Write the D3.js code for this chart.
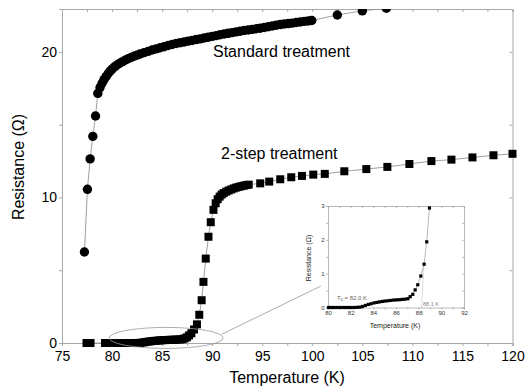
<!DOCTYPE html>
<html>
<head>
<meta charset="utf-8">
<script src="https://cdn.jsdelivr.net/npm/d3@7"></script>
<style>
  body { margin: 0; background: #fff; }
  svg { display: block; font-family: "Liberation Sans", Arial, sans-serif; }
</style>
</head>
<body>
<div id="chart"></div>
<script>
// standard treatment (circles)
const stdT = [77.24, 77.54, 77.81, 78.08, 78.35, 78.58, 78.8, 79.0, 79.2, 79.4, 79.6, 79.8, 80.0, 80.2, 80.4,
  80.7, 81.0, 81.3, 81.6, 81.9, 82.2, 82.5, 82.8, 83.2, 83.6, 84.0, 84.4, 84.8, 85.2, 85.6, 86.0, 86.4,
  86.8, 87.2, 87.6, 88.0, 88.4, 88.8, 89.2, 89.6, 90.0, 90.4, 90.8, 91.2, 91.6, 92.0, 92.4, 92.8, 93.2,
  93.6, 94.0, 94.4, 94.8, 95.2, 95.6, 96.0, 96.4, 96.8, 97.2, 97.6, 98.0, 98.4, 98.8, 99.2, 99.6, 99.95,
  102.5, 105.0, 107.4];
const stdR = [6.25, 10.56, 12.65, 14.2, 15.6, 17.15, 17.55, 17.85, 18.1, 18.3, 18.5, 18.68, 18.82, 18.95, 19.05,
  19.2, 19.32, 19.43, 19.53, 19.62, 19.7, 19.78, 19.86, 19.95, 20.04, 20.13, 20.21, 20.29, 20.36, 20.44, 20.51, 20.58,
  20.63, 20.68, 20.74, 20.79, 20.85, 20.9, 20.96, 21.01, 21.07, 21.12, 21.18, 21.23, 21.28, 21.33, 21.38, 21.42, 21.47,
  21.51, 21.55, 21.59, 21.63, 21.68, 21.73, 21.78, 21.83, 21.88, 21.92, 21.95, 21.98, 22.02, 22.06, 22.1, 22.13, 22.16,
  22.54, 22.82, 23.0];

// 2-step treatment (squares)
const stepT = [77.45, 77.85, 79.3, 79.55, 79.8, 80.05, 80.3, 80.55, 80.8, 81.05, 81.3, 81.55, 81.8, 82.05, 82.3,
  82.55, 82.8, 83.05, 83.3, 83.55, 83.8, 84.05, 84.3, 84.55, 84.8, 85.05, 85.3, 85.55, 85.8, 86.05, 86.3, 86.55,
  86.8, 87.05, 87.25, 87.48, 87.69, 87.92, 88.19, 88.48, 88.71, 88.95, 89.13, 89.36, 89.63, 89.86, 90.13, 90.35,
  90.55, 90.75, 90.95, 91.15, 91.4, 91.65, 91.9, 92.15, 92.4, 92.65, 92.9, 93.15, 93.4, 93.65, 94.8, 95.7, 96.8,
  97.9, 98.97, 100.1, 101.25, 103.2, 105.4, 107.5, 109.7, 111.9, 113.9, 116.0, 118.1, 120.0];
const stepR = [0, 0, 0, 0, 0, 0, 0, 0, 0, 0, 0, 0, 0, 0, 0,
  0.005, 0.01, 0.03, 0.06, 0.09, 0.11, 0.135, 0.15, 0.165, 0.18, 0.19, 0.2, 0.21, 0.22, 0.225, 0.23, 0.24,
  0.245, 0.26, 0.32, 0.39, 0.52, 0.67, 0.93, 1.28, 1.94, 2.94, 4.2, 5.8, 7.3, 8.3, 9.15, 9.6,
  9.88, 10.06, 10.2, 10.3, 10.4, 10.48, 10.55, 10.62, 10.68, 10.73, 10.77, 10.81, 10.85, 10.88, 10.97, 11.09, 11.25,
  11.39, 11.48, 11.57, 11.62, 11.8, 11.95, 12.1, 12.3, 12.5, 12.6, 12.75, 12.9, 13.0];

const xTicks = [75, 80, 85, 90, 95, 100, 105, 110, 115, 120];
const yTicks = [0, 10, 20];
const insetXTicks = [80, 82, 84, 86, 88, 90, 92];
const insetYTicks = [0, 1, 2, 3];
const tangent = [[88.25, 0], [88.47, 1.3]];

const W = 526, H = 387;
const frame = "#a8a8a8";

let svg = d3.select("#chart").append("svg")
  .attr("width", W)
  .attr("height", H);

let x = d3.scaleLinear().domain([75, 120]).range([62, 512.5]);
let y = d3.scaleLinear().domain([0, 22.95]).range([343, 9]);

let std = stdT.map((t, i) => [t, stdR[i]]);
let step = stepT.map((t, i) => [t, stepR[i]]);

// axes
function styleAxis(g) {
  g.selectAll("path,line").attr("stroke", frame);
  g.selectAll("text").attr("fill", "#000");
}

svg.append("g").attr("transform", "translate(0,343)")
  .call(d3.axisBottom(x).tickValues(d3.range(77.5, 120, 5)).tickSize(3).tickFormat(""))
  .call(styleAxis);
svg.append("g").attr("transform", "translate(0,343)")
  .call(d3.axisBottom(x).tickValues(xTicks).tickSize(3).tickPadding(5))
  .call(styleAxis)
  .selectAll("text").attr("font-size", 14).attr("font-family", "Liberation Sans, Arial");
svg.append("g").attr("transform", "translate(0,9)")
  .call(d3.axisTop(x).tickValues(d3.range(75, 120.1, 2.5)).tickSize(-3).tickFormat(""))
  .call(styleAxis);

svg.append("g").attr("transform", "translate(62,0)")
  .call(d3.axisLeft(y).tickValues([5, 15]).tickSize(3).tickFormat(""))
  .call(styleAxis);
svg.append("g").attr("transform", "translate(62,0)")
  .call(d3.axisLeft(y).tickValues(yTicks).tickSize(3).tickPadding(2))
  .call(styleAxis)
  .selectAll("text").attr("font-size", 14).attr("font-family", "Liberation Sans, Arial");
svg.append("g").attr("transform", "translate(512.5,0)")
  .call(d3.axisRight(y).tickValues([0, 5, 10, 15, 20]).tickSize(-3).tickFormat(""))
  .call(styleAxis);

// axis titles
svg.append("text")
  .attr("x", 287).attr("y", 383)
  .attr("text-anchor", "middle")
  .attr("font-size", 16)
  .text("Temperature (K)");
svg.append("text")
  .attr("transform", "translate(24,167) rotate(-90)")
  .attr("text-anchor", "middle")
  .attr("font-size", 16)
  .text("Resistance (Ω)");

// clip only at the top of the plot
svg.append("clipPath").attr("id", "clip")
  .append("rect").attr("x", 0).attr("y", 9).attr("width", W).attr("height", H);

let plot = svg.append("g").attr("clip-path", "url(#clip)");

let line = d3.line().x(d => x(d[0])).y(d => y(d[1]));

plot.append("path").datum(std)
  .attr("d", line).attr("fill", "none").attr("stroke", "#888").attr("stroke-width", 0.8);
plot.append("path").datum(step)
  .attr("d", line).attr("fill", "none").attr("stroke", "#888").attr("stroke-width", 0.8);

plot.selectAll("circle.std").data(std).enter()
  .append("circle")
  .attr("class", "std")
  .attr("cx", d => x(d[0]))
  .attr("cy", d => y(d[1]))
  .attr("r", 4.7)
  .attr("fill", "#000");

const sq = 8;
plot.selectAll("rect.step").data(step).enter()
  .append("rect")
  .attr("class", "step")
  .attr("x", d => x(d[0]) - sq / 2)
  .attr("y", d => y(d[1]) - sq / 2)
  .attr("width", sq)
  .attr("height", sq)
  .attr("fill", "#000");

// labels
svg.append("text").attr("x", 213).attr("y", 57).attr("font-size", 16).text("Standard treatment");
svg.append("text").attr("x", 221).attr("y", 159).attr("font-size", 16).text("2-step treatment");

// zoom ellipse + connector
svg.append("ellipse")
  .attr("cx", x(85.4)).attr("cy", y(0.35))
  .attr("rx", 57).attr("ry", 10.5)
  .attr("fill", "none").attr("stroke", "#999").attr("stroke-width", 0.8);
svg.append("line")
  .attr("x1", x(90.95)).attr("y1", y(0.6))
  .attr("x2", 321).attr("y2", 286)
  .attr("stroke", "#999").attr("stroke-width", 0.8);

// inset
let ix = d3.scaleLinear().domain([80, 92]).range([328, 464]);
let iy = d3.scaleLinear().domain([0, 3]).range([307.5, 206]);
let inset = svg.append("g");

inset.append("rect")
  .attr("x", 328).attr("y", 206).attr("width", 136).attr("height", 101.5)
  .attr("fill", "#fff");

function insetAxis(g) {
  g.selectAll("path,line").attr("stroke", frame).attr("stroke-width", 0.8);
  g.selectAll("text").attr("fill", "#333").attr("font-size", 6);
}
inset.append("g").attr("transform", "translate(0,307.5)")
  .call(d3.axisBottom(ix).tickValues(d3.range(80, 92.1, 1)).tickSize(2).tickFormat(d => d % 2 === 0 ? d : "").tickPadding(1.5))
  .call(insetAxis);
inset.append("g").attr("transform", "translate(0,206)")
  .call(d3.axisTop(ix).tickValues(d3.range(80, 92.1, 1)).tickSize(-2).tickFormat(""))
  .call(insetAxis);
inset.append("g").attr("transform", "translate(328,0)")
  .call(d3.axisLeft(iy).tickValues(d3.range(0, 3.01, 0.5)).tickSize(2).tickFormat(d => insetYTicks.includes(d) ? d : "").tickPadding(1.5))
  .call(insetAxis);
inset.append("g").attr("transform", "translate(464,0)")
  .call(d3.axisRight(iy).tickValues(d3.range(0, 3.01, 0.5)).tickSize(-2).tickFormat(""))
  .call(insetAxis);

inset.append("text")
  .attr("x", 395).attr("y", 327.5)
  .attr("text-anchor", "middle").attr("font-size", 7).attr("fill", "#222")
  .text("Temperature (K)");
inset.append("text")
  .attr("transform", "translate(311,258) rotate(-90)")
  .attr("text-anchor", "middle").attr("font-size", 7).attr("fill", "#222")
  .text("Resistance (Ω)");

let insetData = step.filter(d => d[0] >= 80 && d[1] <= 3.01);

inset.append("path").datum(tangent)
  .attr("d", d3.line().x(d => ix(d[0])).y(d => iy(d[1])))
  .attr("stroke", "#999").attr("stroke-width", 0.7).attr("stroke-dasharray", "1,1");

inset.append("path").datum(insetData)
  .attr("d", d3.line().x(d => ix(d[0])).y(d => iy(d[1])))
  .attr("fill", "none").attr("stroke", "#888").attr("stroke-width", 0.6);

inset.selectAll("rect.pt").data(insetData).enter()
  .append("rect")
  .attr("class", "pt")
  .attr("x", d => ix(d[0]) - 1.6)
  .attr("y", d => iy(d[1]) - 1.6)
  .attr("width", 3.2).attr("height", 3.2)
  .attr("fill", "#000");

let tc = inset.append("text")
  .attr("x", 337).attr("y", 299.5)
  .attr("font-size", 6).attr("fill", "#666");
tc.append("tspan").text("T");
tc.append("tspan").attr("font-size", 4.5).attr("dy", 1.5).text("c");
tc.append("tspan").attr("dy", -1.5).text(" = 82.0 K");

inset.append("text")
  .attr("x", 423).attr("y", 306)
  .attr("font-size", 5.5).attr("fill", "#888")
  .text("88.1 K");
</script>
</body>
</html>
